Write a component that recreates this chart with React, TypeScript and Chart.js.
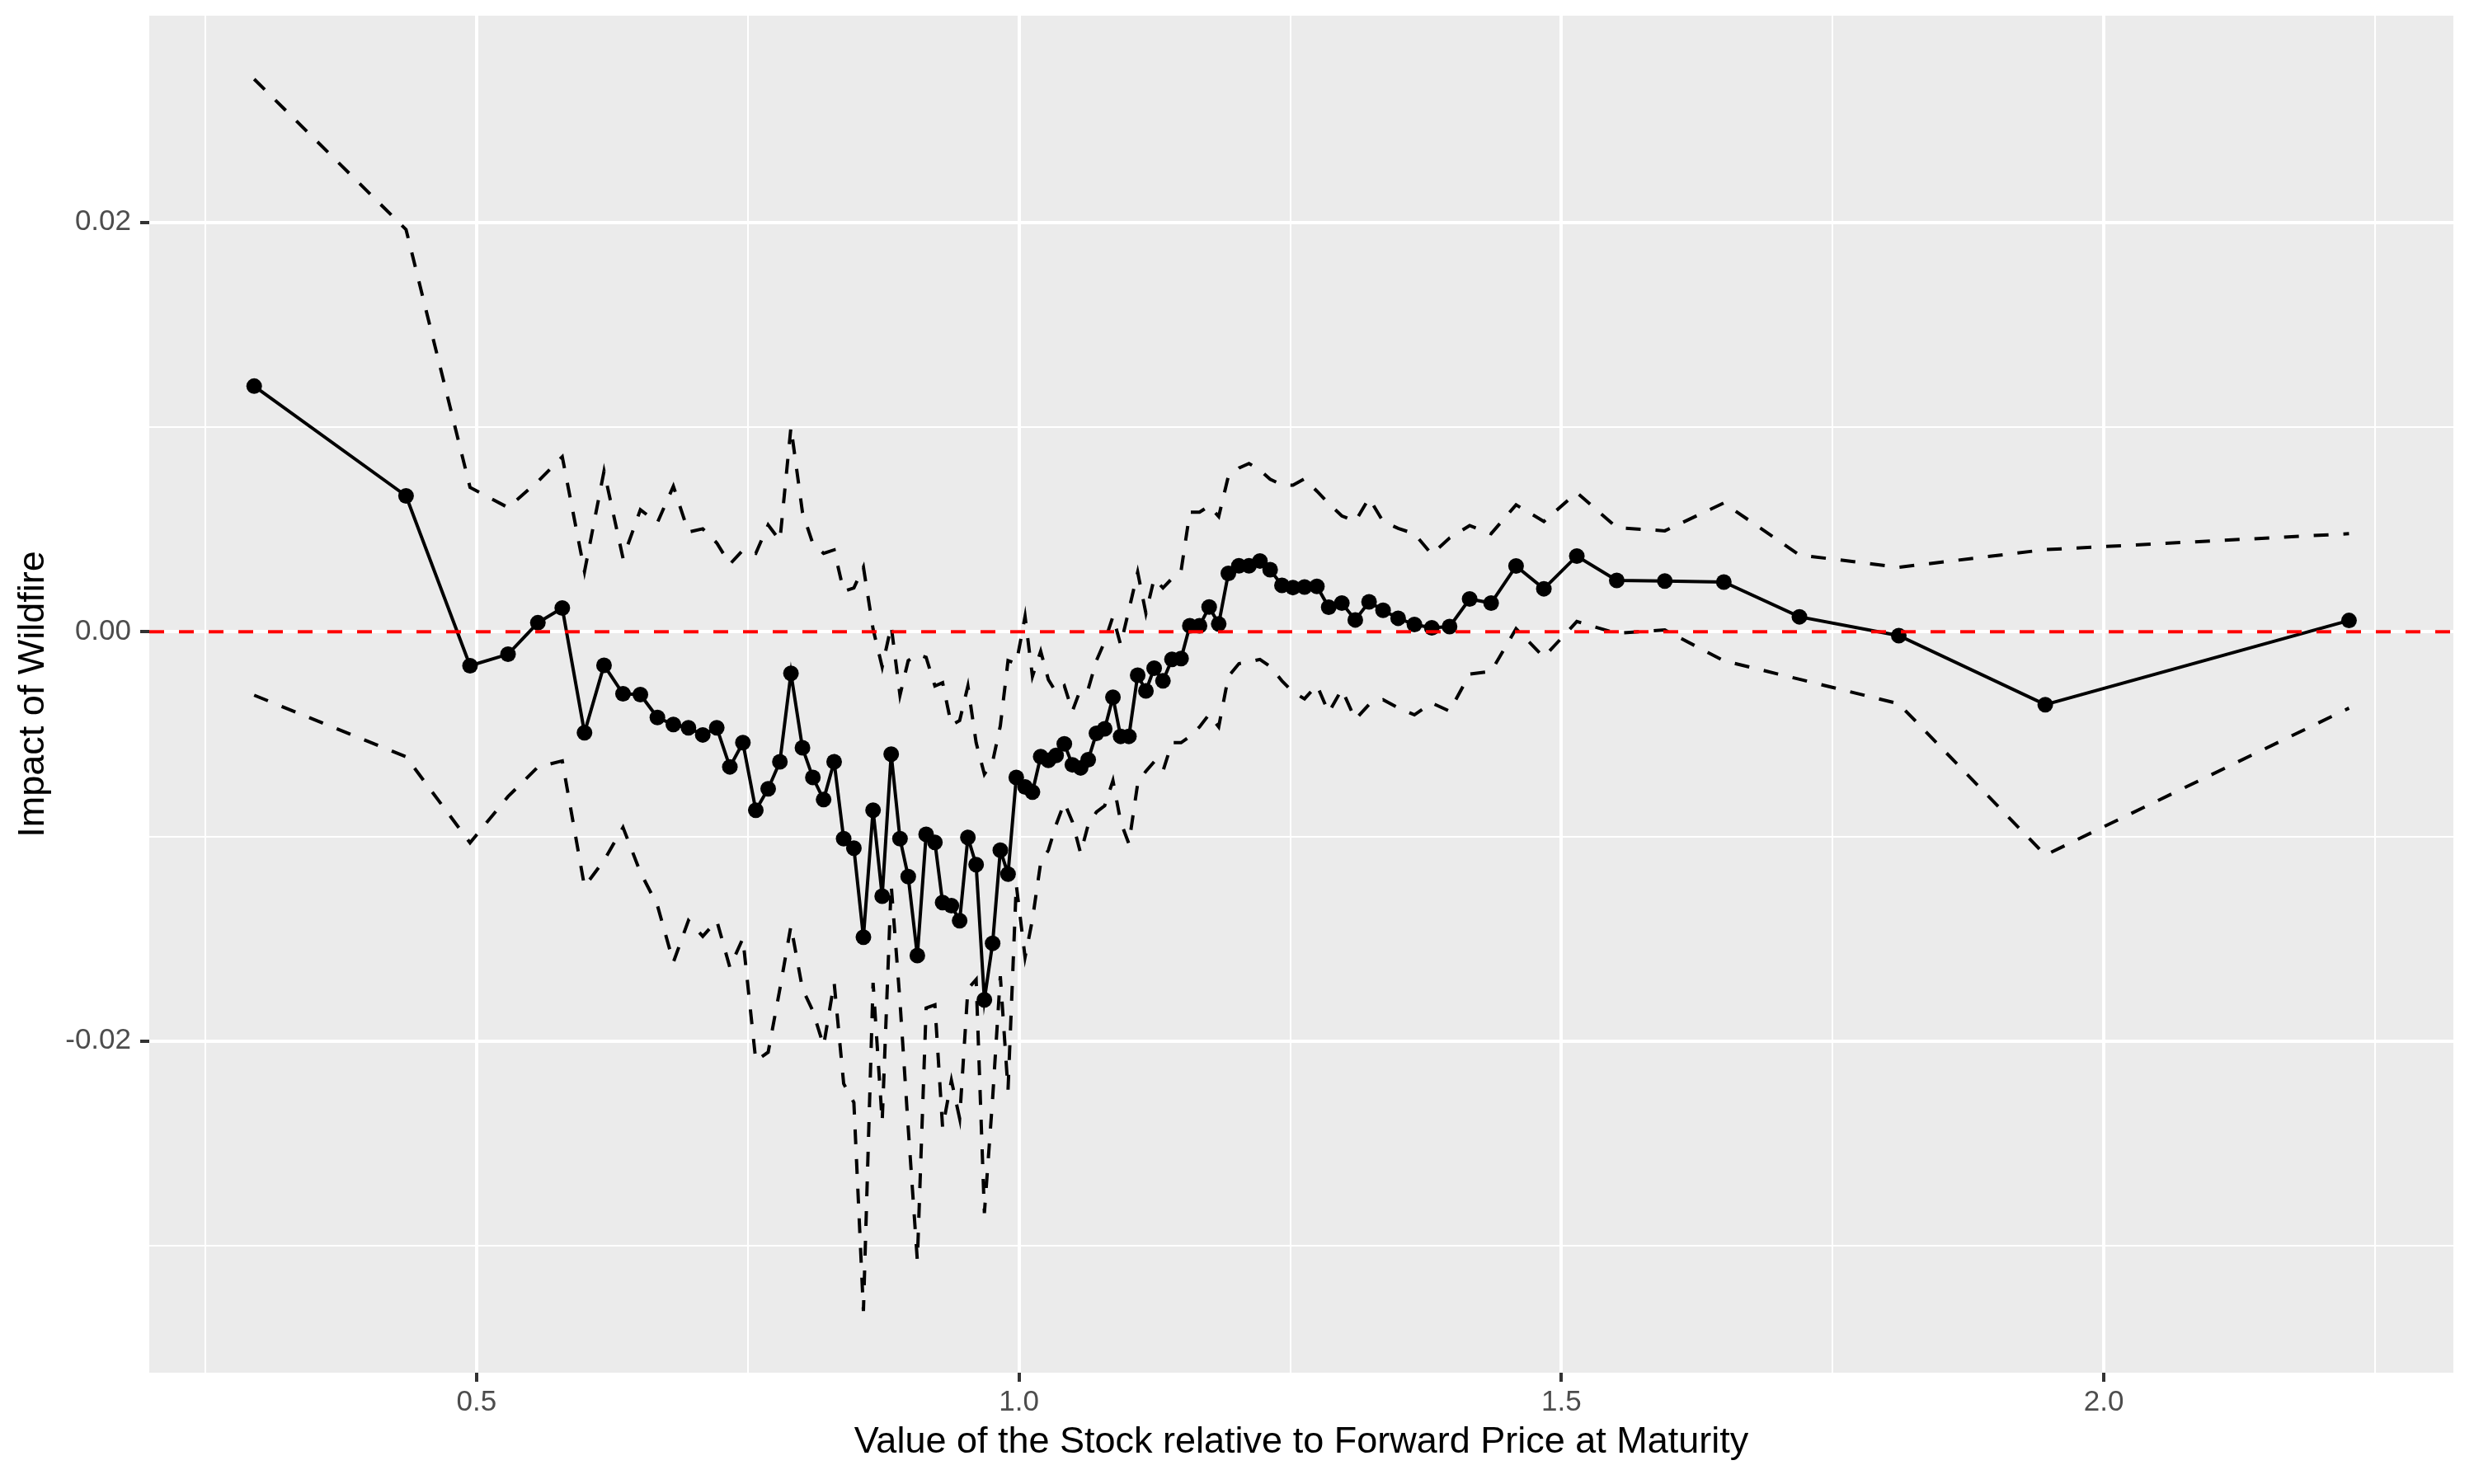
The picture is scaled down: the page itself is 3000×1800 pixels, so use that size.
import { useEffect, useRef } from "react"
import { Chart, registerables } from "chart.js"

Chart.register(...registerables)

// Moneyness grid (value of stock relative to forward price)
const xValues = [
  0.295, 0.435, 0.494, 0.529, 0.5565, 0.579, 0.5995, 0.6175, 0.635, 0.651,
  0.6667, 0.6814, 0.6953, 0.7085, 0.7214, 0.7335, 0.7455, 0.7574, 0.7688, 0.7796,
  0.7898, 0.8004, 0.81, 0.8199, 0.8296, 0.8384, 0.8478, 0.8566, 0.8655, 0.8739,
  0.8822, 0.8903, 0.8979, 0.9063, 0.9144, 0.9225, 0.9296, 0.9377, 0.9453, 0.9529,
  0.9605, 0.9681, 0.9757, 0.9828, 0.9899, 0.9975, 1.0056, 1.0124, 1.02, 1.0271,
  1.0342, 1.0418, 1.0492, 1.0568, 1.0638, 1.0714, 1.079, 1.0866, 1.0937, 1.1013,
  1.1094, 1.117, 1.1246, 1.1327, 1.141, 1.1494, 1.1575, 1.1664, 1.1753, 1.1841,
  1.193, 1.2027, 1.212, 1.2221, 1.2315, 1.2424, 1.2525, 1.2632, 1.2746, 1.2855,
  1.2976, 1.31, 1.3227, 1.3356, 1.3495, 1.3645, 1.3805, 1.3969, 1.4154, 1.4352,
  1.4582, 1.4838, 1.5142, 1.551, 1.5953, 1.6497, 1.7194, 1.811, 1.946, 2.226,
]

// Point estimates
const estimate = [
  0.012, 0.00664, -0.00166, -0.0011, 0.00044, 0.00116, -0.00493, -0.00164, -0.00303, -0.00307,
  -0.00419, -0.00453, -0.00469, -0.00504, -0.00469, -0.0066, -0.00542, -0.00872, -0.00767, -0.00635,
  -0.00203, -0.00567, -0.00712, -0.0082, -0.00635, -0.01011, -0.01057, -0.01492, -0.00872, -0.01292,
  -0.00598, -0.01011, -0.01196, -0.01582, -0.0099, -0.01029, -0.01323, -0.01338, -0.01412, -0.01005,
  -0.01138, -0.01798, -0.01522, -0.01067, -0.01184, -0.00712, -0.00758, -0.00783, -0.0061, -0.00628,
  -0.00604, -0.00548, -0.0065, -0.00665, -0.00625, -0.00496, -0.00474, -0.0032, -0.00511, -0.00511,
  -0.00212, -0.00289, -0.00178, -0.0024, -0.00135, -0.00131, 0.00029, 0.00029, 0.00121, 0.00038,
  0.00285, 0.00322, 0.00322, 0.00346, 0.00303, 0.00227, 0.00216, 0.00219, 0.00222, 0.0012,
  0.0014, 0.00058, 0.00146, 0.00105, 0.00066, 0.00035, 0.00019, 0.00025, 0.0016, 0.0014,
  0.00321, 0.0021, 0.0037, 0.00251, 0.00248, 0.00243, 0.00073, -0.00019, -0.00356, 0.00055,
]

// Upper confidence bound
const upper = [
  0.027, 0.01965, 0.00705, 0.00607, 0.00734, 0.00855, 0.00294, 0.00785, 0.00359, 0.00596,
  0.00533, 0.00711, 0.00487, 0.00503, 0.00434, 0.0033, 0.00399, 0.00383, 0.00522, 0.00445,
  0.01, 0.00584, 0.0043, 0.00383, 0.004, 0.00198, 0.00214, 0.00316, 0.00013, -0.00172,
  0.00029, -0.0031, -0.00141, -0.0011, -0.00125, -0.00265, -0.00249, -0.00456, -0.00434, -0.00265,
  -0.00542, -0.00696, -0.00635, -0.0046, -0.00141, -0.00156, 0.00075, -0.00218, -0.00095, -0.00234,
  -0.00295, -0.00264, -0.00388, -0.0028, -0.0028, -0.00141, -0.00048, 0.00075, -0.00064, 0.00106,
  0.00291, 0.0009, 0.0026, 0.00214, 0.0026, 0.00297, 0.00584, 0.00584, 0.00615, 0.00563,
  0.0076, 0.008, 0.00822, 0.0079, 0.00745, 0.00718, 0.00716, 0.00747, 0.00687, 0.00626,
  0.00566, 0.00539, 0.00653, 0.00539, 0.00505, 0.00479, 0.00378, 0.00458, 0.00519, 0.00479,
  0.0062, 0.00539, 0.0068, 0.00509, 0.00493, 0.00629, 0.00375, 0.00315, 0.00401, 0.00479,
]

// Lower confidence bound
const lower = [
  -0.0031, -0.00611, -0.01031, -0.00805, -0.00661, -0.00631, -0.01245, -0.01117, -0.00956, -0.01175,
  -0.01337, -0.01615, -0.01411, -0.01488, -0.01411, -0.0164, -0.01498, -0.02097, -0.02054, -0.01745,
  -0.01437, -0.01745, -0.01853, -0.02023, -0.01714, -0.02208, -0.023, -0.03319, -0.01715, -0.02393,
  -0.01236, -0.01806, -0.02424, -0.03072, -0.01838, -0.01823, -0.02424, -0.02192, -0.02378, -0.01745,
  -0.01699, -0.0284, -0.0228, -0.01683, -0.02239, -0.01236, -0.0159, -0.01406, -0.01128, -0.01067,
  -0.00943, -0.00835, -0.00928, -0.01082, -0.00943, -0.00881, -0.0085, -0.00727, -0.00928, -0.01036,
  -0.00742, -0.00681, -0.00635, -0.00681, -0.00542, -0.00542, -0.00511, -0.00465, -0.00403, -0.00465,
  -0.00218, -0.00156, -0.00147, -0.00135, -0.0017, -0.0024, -0.00294, -0.00328, -0.00261, -0.00395,
  -0.00281, -0.00429, -0.00355, -0.00332, -0.00372, -0.00406, -0.00348, -0.00388, -0.00207, -0.00194,
  0.00015, -0.00124, 0.0005, -0.00008, 0.00009, -0.00142, -0.00232, -0.00352, -0.01091, -0.00373,
]

const xMajorTicks = [0.5, 1.0, 1.5, 2.0]
const xMinorTicks = [0.25, 0.75, 1.25, 1.75, 2.25]
const yMajorTicks = [-0.02, 0, 0.02]
const yMinorTicks = [-0.03, -0.01, 0.01]

const X_MIN = 0.1983
const X_MAX = 2.3222
const Y_MIN = -0.0362
const Y_MAX = 0.0301

const FONT = '"Liberation Sans", Arial, Helvetica, sans-serif'

const isMajor = (list: number[], v: number) => list.some((m) => Math.abs(m - v) < 1e-9)

const panelBackground = {
  id: "panelBackground",
  beforeDraw(chart: Chart) {
    const { ctx, chartArea } = chart
    ctx.save()
    ctx.fillStyle = "#EBEBEB"
    ctx.fillRect(chartArea.left, chartArea.top, chartArea.right - chartArea.left, chartArea.bottom - chartArea.top)
    ctx.restore()
  },
}

export default function App() {
  const chartRef = useRef<HTMLCanvasElement>(null)
  const chartInstance = useRef<Chart | null>(null)

  useEffect(() => {
    if (!chartRef.current) return

    if (chartInstance.current) {
      chartInstance.current.destroy()
    }

    const toPoints = (ys: number[]) => xValues.map((x, i) => ({ x, y: ys[i] }))

    chartInstance.current = new Chart(chartRef.current, {
      type: "scatter",
      data: {
        datasets: [
          {
            label: "zero",
            data: [
              { x: X_MIN, y: 0 },
              { x: X_MAX, y: 0 },
            ],
            showLine: true,
            borderColor: "#FF0000",
            borderWidth: 4,
            borderDash: [18, 18],
            pointRadius: 0,
            pointHoverRadius: 0,
          },
          {
            label: "estimate",
            data: toPoints(estimate),
            showLine: true,
            borderColor: "#000000",
            borderWidth: 4,
            pointRadius: 9.5,
            pointHoverRadius: 9.5,
            pointBackgroundColor: "#000000",
            pointBorderWidth: 0,
          },
          {
            label: "upper",
            data: toPoints(upper),
            showLine: true,
            borderColor: "#000000",
            borderWidth: 4,
            borderDash: [18, 18],
            pointRadius: 0,
            pointHoverRadius: 0,
          },
          {
            label: "lower",
            data: toPoints(lower),
            showLine: true,
            borderColor: "#000000",
            borderWidth: 4,
            borderDash: [18, 18],
            pointRadius: 0,
            pointHoverRadius: 0,
          },
        ],
      },
      options: {
        animation: false,
        responsive: true,
        maintainAspectRatio: false,
        devicePixelRatio: 1,
        layout: {
          padding: { top: 19, right: 25, bottom: 0, left: 0 },
        },
        plugins: {
          legend: { display: false },
          tooltip: { enabled: false },
        },
        scales: {
          x: {
            type: "linear",
            min: X_MIN,
            max: X_MAX,
            afterBuildTicks: (scale) => {
              scale.ticks = [...xMinorTicks, ...xMajorTicks].sort((a, b) => a - b).map((value) => ({ value }))
            },
            afterFit: (scale) => {
              scale.height = 135
              scale.paddingLeft = 0
              scale.paddingRight = 0
            },
            border: { display: false },
            grid: {
              color: "#FFFFFF",
              lineWidth: (ctx) => (isMajor(xMajorTicks, ctx.tick.value) ? 4 : 2),
              drawTicks: true,
              tickLength: 11,
              tickWidth: 4,
              tickColor: (ctx) => (isMajor(xMajorTicks, ctx.tick.value) ? "#333333" : "rgba(0,0,0,0)"),
            },
            ticks: {
              autoSkip: false,
              maxRotation: 0,
              padding: 4,
              color: "#4D4D4D",
              font: { family: FONT, size: 35 },
              callback: (value) => (isMajor(xMajorTicks, Number(value)) ? Number(value).toFixed(1) : ""),
            },
            title: {
              display: true,
              text: "Value of the Stock relative to Forward Price at Maturity",
              color: "#000000",
              font: { family: FONT, size: 45 },
              padding: { top: 0, bottom: 23 },
            },
          },
          y: {
            type: "linear",
            min: Y_MIN,
            max: Y_MAX,
            afterBuildTicks: (scale) => {
              scale.ticks = [...yMinorTicks, ...yMajorTicks].sort((a, b) => a - b).map((value) => ({ value }))
            },
            afterFit: (scale) => {
              scale.width = 181
              scale.paddingTop = 0
              scale.paddingBottom = 0
            },
            border: { display: false },
            grid: {
              color: "#FFFFFF",
              lineWidth: (ctx) => (isMajor(yMajorTicks, ctx.tick.value) ? 4 : 2),
              drawTicks: true,
              tickLength: 11,
              tickWidth: 4,
              tickColor: (ctx) => (isMajor(yMajorTicks, ctx.tick.value) ? "#333333" : "rgba(0,0,0,0)"),
            },
            ticks: {
              autoSkip: false,
              padding: 11,
              color: "#4D4D4D",
              font: { family: FONT, size: 35 },
              callback: (value) => (isMajor(yMajorTicks, Number(value)) ? Number(value).toFixed(2) : ""),
            },
            title: {
              display: true,
              text: "Impact of Wildfire",
              color: "#000000",
              font: { family: FONT, size: 45 },
              padding: { top: 14, bottom: 0 },
            },
          },
        },
      },
      plugins: [panelBackground],
    })

    return () => {
      if (chartInstance.current) {
        chartInstance.current.destroy()
        chartInstance.current = null
      }
    }
  }, [])

  return (
    <div style={{ position: "fixed", left: 0, top: 0, width: 3000, height: 1800, background: "#FFFFFF" }}>
      <canvas ref={chartRef} />
    </div>
  )
}
